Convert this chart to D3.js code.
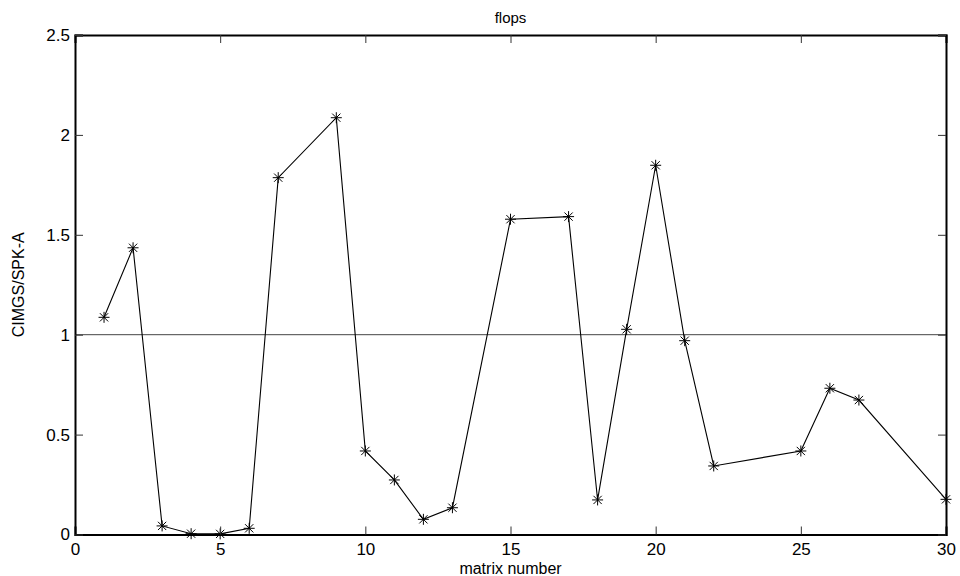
<!DOCTYPE html>
<head>
  <meta charset="utf-8">
  <script src="https://d3js.org/d3.v7.min.js"></script>
  <style>
  body { margin: 0; background: #fff; }
  text { font-family: "Liberation Sans", Arial, sans-serif; fill: #000; }
  .line { fill: none; stroke: #000; stroke-width: 1.1px; }
  .star { fill: none; stroke: #000; stroke-width: 1px; }
  .ref { stroke: #444; stroke-width: 1px; }
</style>
</head>
<body>
<svg width="960" height="576"></svg>

<script type="text/javascript">
// matrix number vs ratio
var matrixNum = [1, 2, 3, 4, 5, 6, 7, 9, 10, 11, 12, 13, 15, 17, 18, 19, 20, 21, 22, 25, 26, 27, 30];
var ratio = [1.087, 1.435, 0.043, 0.004, 0.003, 0.031, 1.786, 2.086, 0.418, 0.273, 0.076, 0.134,
             1.578, 1.591, 0.173, 1.027, 1.848, 0.970, 0.343, 0.418, 0.732, 0.673, 0.176];
var xTicks = [0, 5, 10, 15, 20, 25, 30];
var yTicks = [0, 0.5, 1, 1.5, 2, 2.5];

// plot box edges
var boxL = 75, boxR = 946, boxT = 35, boxB = 534.5;

var svg = d3.select("svg");

var x = d3.scaleLinear().domain([0, 30]).range([boxL, boxR]);
var y = d3.scaleLinear().domain([0, 2.5]).range([boxB, boxT]);

// reference line at 1
svg.append("line")
    .attr("class", "ref")
    .attr("x1", boxL).attr("x2", boxR)
    .attr("y1", y(1)).attr("y2", y(1));

// the data line
var pts = matrixNum.map(function(d, i) { return [d, ratio[i]]; });
svg.append("path")
    .datum(pts)
    .attr("class", "line")
    .attr("d", d3.line().x(function(d) { return x(d[0]); }).y(function(d) { return y(d[1]); }));

// asterisk markers (plus + cross)
var r = 5.5, rd = r * 0.75;
var star = "M" + (-r) + ",0H" + r + "M0," + (-r) + "V" + r +
           "M" + (-rd) + "," + (-rd) + "L" + rd + "," + rd +
           "M" + (-rd) + "," + rd + "L" + rd + "," + (-rd);
svg.selectAll(".star")
    .data(pts)
  .enter().append("path")
    .attr("class", "star")
    .attr("d", star)
    .attr("transform", function(d) { return "translate(" + x(d[0]) + "," + y(d[1]) + ")"; });

// box axes with inward ticks
var tickLen = 8;
svg.append("g")
    .attr("transform", "translate(0," + boxB + ")")
    .call(d3.axisBottom(x).tickValues(xTicks).tickSize(-tickLen).tickPadding(8).tickFormat(d3.format("d")))
    .call(styleAxis);
svg.append("g")
    .attr("transform", "translate(0," + boxT + ")")
    .call(d3.axisTop(x).tickValues(xTicks).tickSize(-tickLen).tickFormat(""))
    .call(styleAxis);
svg.append("g")
    .attr("transform", "translate(" + boxL + ",0)")
    .call(d3.axisLeft(y).tickValues(yTicks).tickSize(-tickLen).tickPadding(5).tickFormat(d3.format("")))
    .call(styleAxis);
svg.append("g")
    .attr("transform", "translate(" + boxR + ",0)")
    .call(d3.axisRight(y).tickValues(yTicks).tickSize(-tickLen).tickFormat(""))
    .call(styleAxis);

function styleAxis(g) {
  g.select(".domain").attr("stroke", "#000").attr("stroke-width", 2);
  g.selectAll(".tick line").attr("stroke", "#333").attr("stroke-width", 1);
  g.selectAll(".tick text")
    .style("font-family", "'Liberation Sans', Arial, sans-serif")
    .style("font-size", "17px")
    .attr("fill", "#000");
}

// titles
svg.append("text")
    .attr("x", (boxL + boxR) / 2).attr("y", 23)
    .attr("text-anchor", "middle")
    .style("font-size", "15px")
    .text("flops");
svg.append("text")
    .attr("x", (boxL + boxR) / 2).attr("y", 574)
    .attr("text-anchor", "middle")
    .style("font-size", "16px")
    .text("matrix number");
svg.append("text")
    .attr("transform", "translate(24," + ((boxT + boxB) / 2) + ") rotate(-90)")
    .attr("text-anchor", "middle")
    .style("font-size", "16px")
    .text("CIMGS/SPK-A");
</script>

</body>
</html>
